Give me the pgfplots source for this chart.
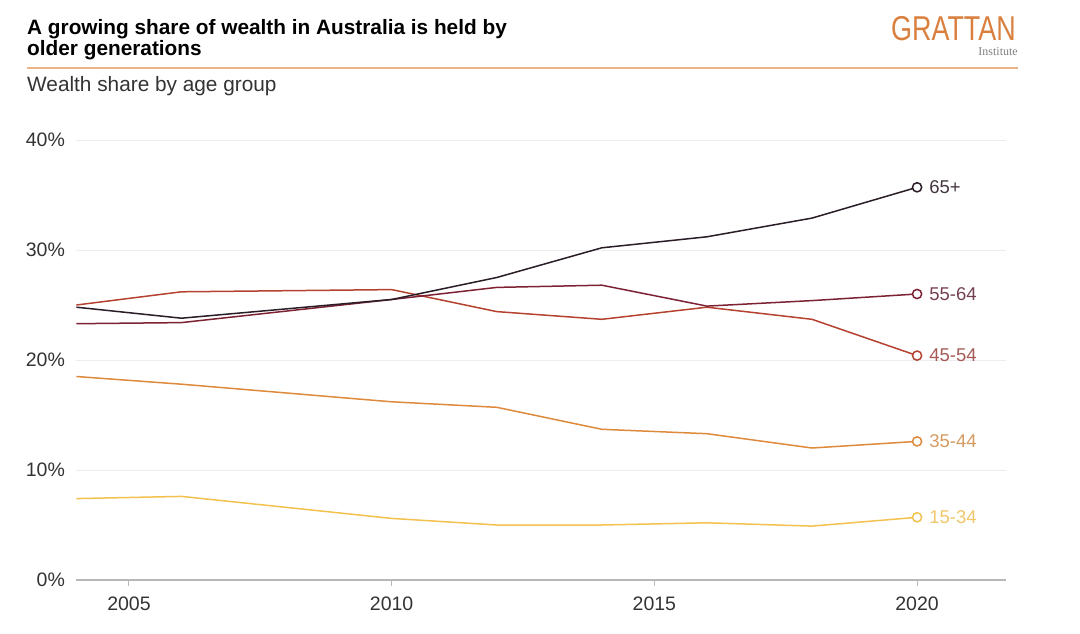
\documentclass[border=0pt]{standalone}
\usepackage{fontspec}
\setmainfont{Liberation Sans}
\newfontfamily\seriffont{Liberation Serif}
\usepackage{pgfplots}
\pgfplotsset{compat=1.18}
\definecolor{cA}{HTML}{2B1D27}
\definecolor{cB}{HTML}{7C2233}
\definecolor{cC}{HTML}{B4422F}
\definecolor{cD}{HTML}{DE8A3C}
\definecolor{cE}{HTML}{F2C14E}
\definecolor{lA}{HTML}{45353F}
\definecolor{lB}{HTML}{744050}
\definecolor{lC}{HTML}{A65A55}
\definecolor{lD}{HTML}{D49A60}
\definecolor{lE}{HTML}{F0C66A}
\definecolor{logo}{HTML}{D9803F}
\definecolor{rule}{HTML}{EBB58A}
\definecolor{txt}{HTML}{333333}
\begin{document}
\begin{tikzpicture}
\path (0pt,0pt) rectangle (1080pt,633pt);
\node[anchor=base west, inner sep=0, text=black] at (27pt,598pt) {\fontsize{20.8}{22}\selectfont\bfseries A growing share of wealth in Australia is held by};
\node[anchor=base west, inner sep=0, text=black] at (27pt,577pt) {\fontsize{20.8}{22}\selectfont\bfseries older generations};
\draw[rule, line width=1.5pt] (27pt,565pt) -- (1018pt,565pt);
\node[anchor=base west, inner sep=0, text=txt] at (27pt,541pt) {\fontsize{20.8}{22}\selectfont Wealth share by age group};
\node[anchor=base east, inner sep=0, text=logo] at (1016pt,592pt) {\scalebox{0.78}[1]{\fontsize{34.5}{36}\selectfont GRATTAN}};
\node[anchor=base east, inner sep=0, text=gray] at (1018pt,577pt) {\seriffont\fontsize{12}{13}\selectfont Institute};
\begin{axis}[
  at={(76.4pt,53pt)}, anchor=south west,
  scale only axis, width=930pt, height=440pt,
  xmin=2004, xmax=2021.7, ymin=0, ymax=40,
  clip=false,
  axis lines=left,
  axis line style={-},
  x axis line style={draw=black!28, line width=1.3pt},
  y axis line style={draw=none},
  xtick={2005,2010,2015,2020},
  xticklabels={2005,2010,2015,2020},
  ytick={0,10,20,30,40},
  yticklabels={0\%,10\%,20\%,30\%,40\%},
  /pgf/number format/assume math mode=true,
  tick align=outside,
  major tick length=6pt,
  xtick style={draw=black!28, line width=1pt},
  ytick style={draw=none},
  ymajorgrids,
  major grid style={draw=black!7, line width=1pt},
  tick label style={font=\fontsize{19.5}{21}\selectfont, text=txt},
  xticklabel style={yshift=-7pt},
  yticklabel style={xshift=-2pt},
  every axis plot/.append style={line width=1.5pt, mark=*, mark indices={8}, mark size=4.6pt, mark options={fill=white, line width=1.5pt}},
]
\addplot[cE] coordinates {(2004,7.4) (2006,7.6) (2010,5.6) (2012,5.0) (2014,5.0) (2016,5.2) (2018,4.9) (2020,5.7)};
\addplot[cD] coordinates {(2004,18.5) (2006,17.8) (2010,16.2) (2012,15.7) (2014,13.7) (2016,13.3) (2018,12.0) (2020,12.6)};
\addplot[cC] coordinates {(2004,25.0) (2006,26.2) (2010,26.4) (2012,24.4) (2014,23.7) (2016,24.8) (2018,23.7) (2020,20.4)};
\addplot[cB] coordinates {(2004,23.3) (2006,23.4) (2010,25.5) (2012,26.6) (2014,26.8) (2016,24.9) (2018,25.4) (2020,26.0)};
\addplot[cA] coordinates {(2004,24.8) (2006,23.8) (2010,25.5) (2012,27.5) (2014,30.2) (2016,31.2) (2018,32.9) (2020,35.7)};
\node[anchor=west, text=lA, inner sep=0, font=\fontsize{18.5}{20}\selectfont] at (axis cs:2020.23,35.7) {65+};
\node[anchor=west, text=lB, inner sep=0, font=\fontsize{18.5}{20}\selectfont] at (axis cs:2020.23,26.0) {55-64};
\node[anchor=west, text=lC, inner sep=0, font=\fontsize{18.5}{20}\selectfont] at (axis cs:2020.23,20.4) {45-54};
\node[anchor=west, text=lD, inner sep=0, font=\fontsize{18.5}{20}\selectfont] at (axis cs:2020.23,12.6) {35-44};
\node[anchor=west, text=lE, inner sep=0, font=\fontsize{18.5}{20}\selectfont] at (axis cs:2020.23,5.7) {15-34};
\end{axis}
\end{tikzpicture}
\end{document}
